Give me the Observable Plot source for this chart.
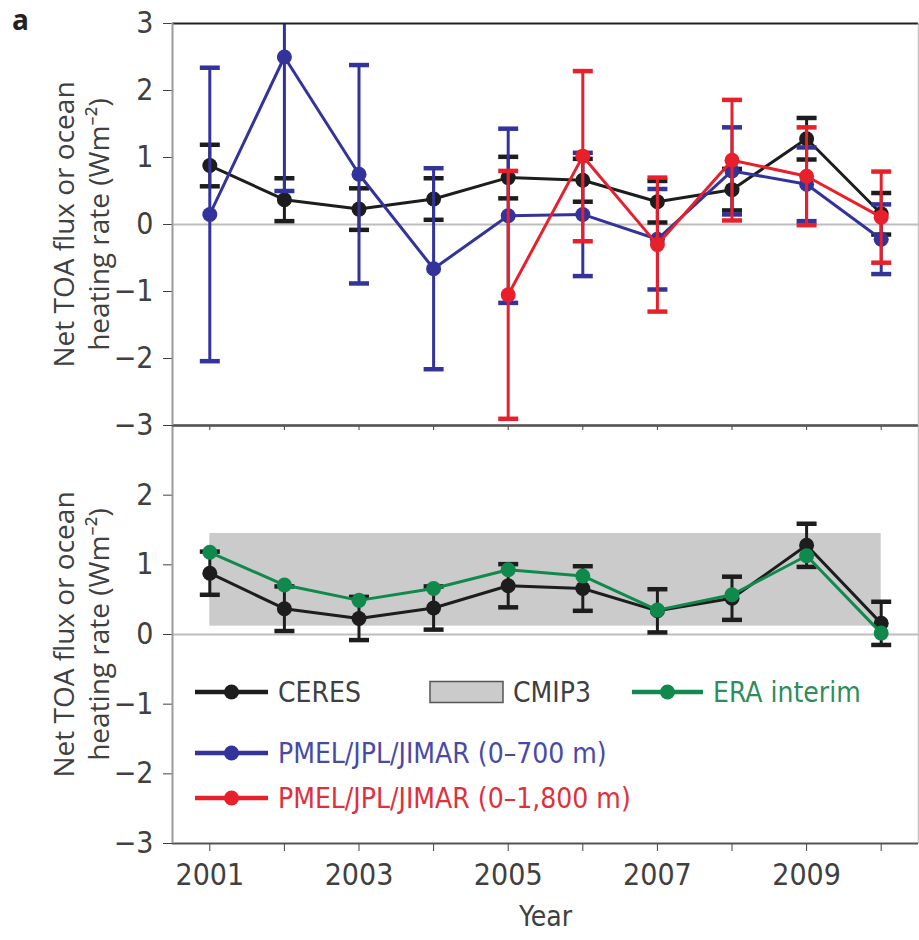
<!DOCTYPE html>
<html>
<head>
<meta charset="utf-8">
<script src="https://cdn.jsdelivr.net/npm/d3@7"></script>
<script src="https://cdn.jsdelivr.net/npm/@observablehq/plot@0.6"></script>
<style>
  body { margin: 0; background: #fff; }
  #wrap { position: relative; width: 919px; height: 940px; overflow: hidden; background: #fff; }
  #wrap > * { position: absolute; left: 0; }
</style>
</head>
<body>
<div id="wrap"></div>
<script>
// ---------------- data ----------------
const years = [2001, 2002, 2003, 2004, 2005, 2006, 2007, 2008, 2009, 2010];
const ceres = [0.88, 0.37, 0.23, 0.38, 0.70, 0.66, 0.34, 0.52, 1.28, 0.16];
const ceresErr = [0.31, 0.32, 0.31, 0.31, 0.31, 0.32, 0.31, 0.31, 0.31, 0.31];
const pmel700 = [0.15, 2.50, 0.75, -0.66, 0.13, 0.15, -0.22, 0.80, 0.60, -0.22];
const pmel700Err = [2.19, 2.00, 1.63, 1.50, 1.30, 0.92, 0.75, 0.65, 0.55, 0.52];
const pmel1800Years = [2005, 2006, 2007, 2008, 2009, 2010];
const pmel1800 = [-1.05, 1.02, -0.30, 0.96, 0.72, 0.11];
const pmel1800Err = [1.85, 1.27, 1.00, 0.90, 0.73, 0.68];
const era = [1.18, 0.71, 0.49, 0.66, 0.93, 0.84, 0.35, 0.57, 1.13, 0.02];
const cmip3Years = [2001, 2010];
const cmip3Range = [0.12, 1.45];
const yTicks = [-3, -2, -1, 0, 1, 2, 3];
const yLabel = "Net TOA flux or ocean\nheating rate (Wm\u207B\u00B2)";
const legendLabels = ["CERES", "CMIP3", "ERA interim", "PMEL/JPL/JIMAR (0\u2013700 m)", "PMEL/JPL/JIMAR (0\u20131,800 m)"];

// ---------------- style ----------------
const C = { ceres: "#1d1d1d", blue: "#33339c", red: "#e8202c", green: "#108a4c", band: "#cbcbcb", text: "#404040" };
const FONT = '"Liberation Sans Narrow", "Arial Narrow", "DejaVu Sans Condensed", "Roboto Condensed", "Open Sans", sans-serif';
const TITLEFONT = '"Open Sans", "Noto Sans", sans-serif';
const fmtY = d3.format("d");

const table = (xs, ys, es) => xs.map((x, i) => ({ x, y: ys[i], lo: es ? ys[i] - es[i] : ys[i], hi: es ? ys[i] + es[i] : ys[i] }));
const capSym = { draw(ctx, size) { const r = Math.sqrt(size / Math.PI); ctx.moveTo(-r, 0); ctx.lineTo(r, 0); } };

function series(data, color, withErr = true) {
  const m = [];
  if (withErr) {
    m.push(Plot.ruleX(data, { x: "x", y1: "lo", y2: "hi", stroke: color, strokeWidth: 3, clip: true }));
    m.push(Plot.dot(data, { x: "x", y: "hi", symbol: capSym, r: 10, stroke: color, strokeWidth: 4.5, fill: "none", clip: true }));
    m.push(Plot.dot(data, { x: "x", y: "lo", symbol: capSym, r: 10, stroke: color, strokeWidth: 4.5, fill: "none", clip: true }));
  }
  m.push(Plot.line(data, { x: "x", y: "y", stroke: color, strokeWidth: 3 }));
  m.push(Plot.dot(data, { x: "x", y: "y", r: 7.5, fill: color }));
  return m;
}

const ceresData = table(years, ceres, ceresErr);
const p700Data = table(years, pmel700, pmel700Err);
const p1800Data = table(pmel1800Years, pmel1800, pmel1800Err);
const eraData = table(years, era, null);
const bandData = [{ x1: cmip3Years[0], x2: cmip3Years[1], y1: cmip3Range[0], y2: cmip3Range[1] }];

const xDomain = [2000.5, 2010.5];
const common = {
  width: 919,
  marginLeft: 172,
  marginRight: 1,
  style: { background: "transparent", color: C.text, fontFamily: FONT, fontSize: "30px", overflow: "visible" }
};
const frameRules = (bottomColor) => [
  Plot.ruleY([3], { stroke: "#222", strokeWidth: 2 }),
  Plot.ruleY([-3], { stroke: bottomColor, strokeWidth: 2 }),
  Plot.ruleX([xDomain[0]], { stroke: "#9a9a9a", strokeWidth: 2 }),
  Plot.ruleX([xDomain[1]], { stroke: "#c4c4c4", strokeWidth: 1.5 })
];
const titleMark = Plot.text([yLabel], {
  frameAnchor: "left", dx: -92, rotate: -90, fontSize: 28, fontFamily: TITLEFONT,
  lineHeight: 1.22, fill: C.text, textAnchor: "middle", lineAnchor: "middle"
});

// ---------------- panel a ----------------
const panelA = Plot.plot({
  ...common,
  height: 440,
  marginTop: 23,
  marginBottom: 15,
  x: { domain: xDomain, ticks: years, tickSize: 5, tickFormat: () => "", label: null },
  y: { domain: [-3, 3], ticks: yTicks, tickSize: 9, tickPadding: 10, tickFormat: fmtY, label: null },
  marks: [
    Plot.ruleY([0], { stroke: "#bdbdbd", strokeWidth: 2 }),
    ...series(ceresData, C.ceres),
    ...series(p700Data, C.blue),
    ...series(p1800Data, C.red),
    ...frameRules("#555"),
    titleMark
  ]
});
panelA.style.top = "0px";

// ---------------- panel b ----------------
const panelB = Plot.plot({
  ...common,
  height: 530,
  marginTop: 15,
  marginBottom: 97,
  x: { domain: xDomain, ticks: years, tickSize: 8, tickPadding: 12, tickFormat: d => (d % 2 ? String(d) : ""), label: null },
  y: { domain: [-3, 3], ticks: yTicks.slice(0, -1), tickSize: 9, tickPadding: 10, tickFormat: fmtY, label: null },
  marks: [
    Plot.rect(bandData, { x1: "x1", x2: "x2", y1: "y1", y2: "y2", fill: C.band }),
    Plot.ruleY([0], { stroke: "#bdbdbd", strokeWidth: 2 }),
    ...series(ceresData, C.ceres),
    ...series(eraData, C.green, false),
    ...frameRules("#555"),
    titleMark,
    Plot.text(["Year"], { frameAnchor: "bottom", dy: 82, fontSize: 28, fill: C.text })
  ]
});
panelB.style.top = "410px";

const wrap = document.getElementById("wrap");
wrap.appendChild(panelB);
wrap.appendChild(panelA);

// ---------------- panel letter + legend ----------------
const letter = document.createElement("div");
letter.textContent = "a";
Object.assign(letter.style, { top: "0px", left: "12px", font: `bold 28px ${TITLEFONT}`, color: "#222" });
wrap.appendChild(letter);

const leg = d3.create("svg").attr("width", 919).attr("height", 940)
  .style("position", "absolute").style("top", "0px").style("left", "0px")
  .style("pointer-events", "none")
  .style("font-family", FONT).style("font-size", "28px");
const items = [
  { kind: "line", color: C.ceres, text: C.text, label: legendLabels[0], x: 195, y: 692, w: 73 },
  { kind: "rect", color: C.band, text: C.text, label: legendLabels[1], x: 430, y: 692, w: 73 },
  { kind: "line", color: C.green, text: "#2f8d5c", label: legendLabels[2], x: 632, y: 692, w: 71 },
  { kind: "line", color: C.blue, text: "#4a4aa6", label: legendLabels[3], x: 195, y: 753, w: 73 },
  { kind: "line", color: C.red, text: "#e0303c", label: legendLabels[4], x: 195, y: 798, w: 73 }
];
for (const it of items) {
  if (it.kind === "line") {
    leg.append("line").attr("x1", it.x).attr("x2", it.x + it.w).attr("y1", it.y).attr("y2", it.y)
      .attr("stroke", it.color).attr("stroke-width", 4.5);
    leg.append("circle").attr("cx", it.x + it.w / 2).attr("cy", it.y).attr("r", 7.5).attr("fill", it.color);
  } else {
    leg.append("rect").attr("x", it.x).attr("y", it.y - 10.5).attr("width", it.w).attr("height", 21)
      .attr("fill", it.color).attr("stroke", "#555").attr("stroke-width", 1.5);
  }
  leg.append("text").attr("x", it.x + it.w + 10).attr("y", it.y).attr("dy", "0.36em")
    .attr("fill", it.text).text(it.label);
}
wrap.appendChild(leg.node());
</script>
</body>
</html>
